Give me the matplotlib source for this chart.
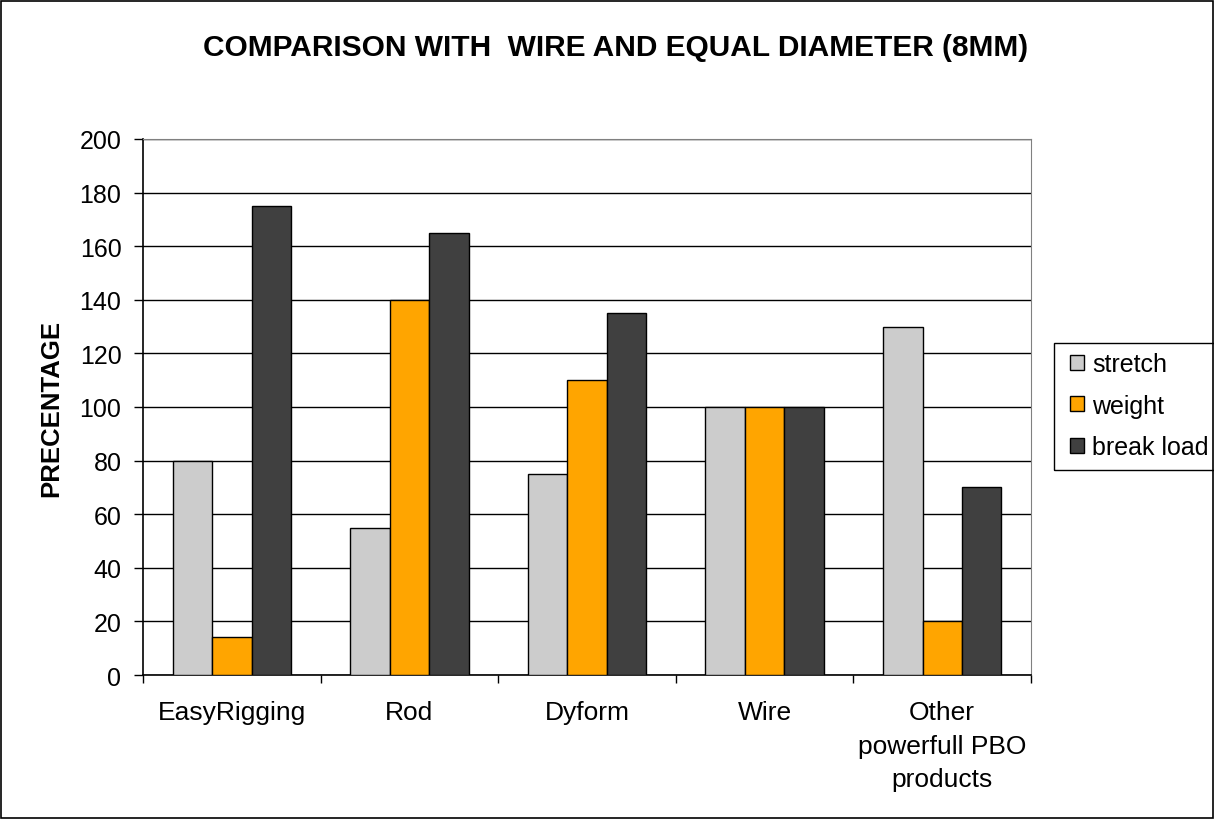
import numpy as np
import matplotlib.pyplot as plt
from matplotlib.patches import Rectangle

plt.rcParams['font.family'] = ['Liberation Sans', 'DejaVu Sans']

# Datos
categorias = ["EasyRigging", "Rod", "Dyform", "Wire", "Other\npowerfull PBO\nproducts"]
stretch = [80, 55, 75, 100, 130]
weight = [14, 140, 110, 100, 20]
break_load = [175, 165, 135, 100, 70]

series = [("stretch", stretch, "#CCCCCC"),
          ("weight", weight, "#FFA500"),
          ("break load", break_load, "#404040")]

W, H = 1214, 820
fig = plt.figure(figsize=(W / 100, H / 100), dpi=100)
fig.patches.append(Rectangle((0.001, 0.001), 0.998, 0.997, transform=fig.transFigure,
                             fill=False, edgecolor="black", linewidth=1.2))
ax = fig.add_axes([0.1178, 0.1756, 0.7315, 0.6537])

x = np.arange(len(categorias))
ancho = 0.667 / 3
for i, (nombre, valores, color) in enumerate(series):
    ax.bar(x + (i - 1) * ancho, valores, width=ancho, color=color,
           edgecolor="black", linewidth=1, label=nombre, zorder=3)

ax.set_xlim(-0.5, len(categorias) - 0.5)
ax.set_ylim(0, 200)
ax.set_yticks(range(0, 201, 20))
ax.yaxis.grid(True, color="black", linewidth=1, zorder=0)
ax.set_axisbelow(True)

# Ticks del eje x entre categorias, etiquetas en el centro
ax.set_xticks(np.arange(-0.5, len(categorias), 1))
ax.set_xticklabels([])
ax.set_xticks(x, minor=True)
ax.set_xticklabels(categorias, minor=True, fontsize=19, linespacing=1.5)
ax.tick_params(axis="x", which="major", direction="out", length=6, width=1)
ax.tick_params(axis="x", which="minor", length=0, pad=18)
ax.tick_params(axis="y", direction="out", length=6.5, width=1, pad=9, labelsize=18)

for lado in ["top", "right"]:
    ax.spines[lado].set_color("#808080")
ax.spines["left"].set_linewidth(1.2)
ax.spines["bottom"].set_linewidth(1.2)

ax.set_ylabel("PRECENTAGE", fontsize=18.5, fontweight="bold", labelpad=12)
fig.text(0.507, 1 - 48 / H, "COMPARISON WITH  WIRE AND EQUAL DIAMETER (8MM)",
         ha="center", va="center", fontsize=21.5, fontweight="bold")

# Leyenda sin marco; el marco se dibuja aparte
leg = ax.legend(loc="upper left", bbox_to_anchor=(1070 / W, 1 - 353 / H),
                bbox_transform=fig.transFigure, fontsize=18, frameon=False,
                handlelength=0.55, handleheight=0.55, handletextpad=0.35,
                labelspacing=0.71, borderpad=0, borderaxespad=0)
fig.patches.append(Rectangle((1054 / W, 1 - 471 / H), 170 / W, 127 / H,
                             transform=fig.transFigure, fill=False,
                             edgecolor="black", linewidth=1))

fig.savefig("out.png", dpi=100)
